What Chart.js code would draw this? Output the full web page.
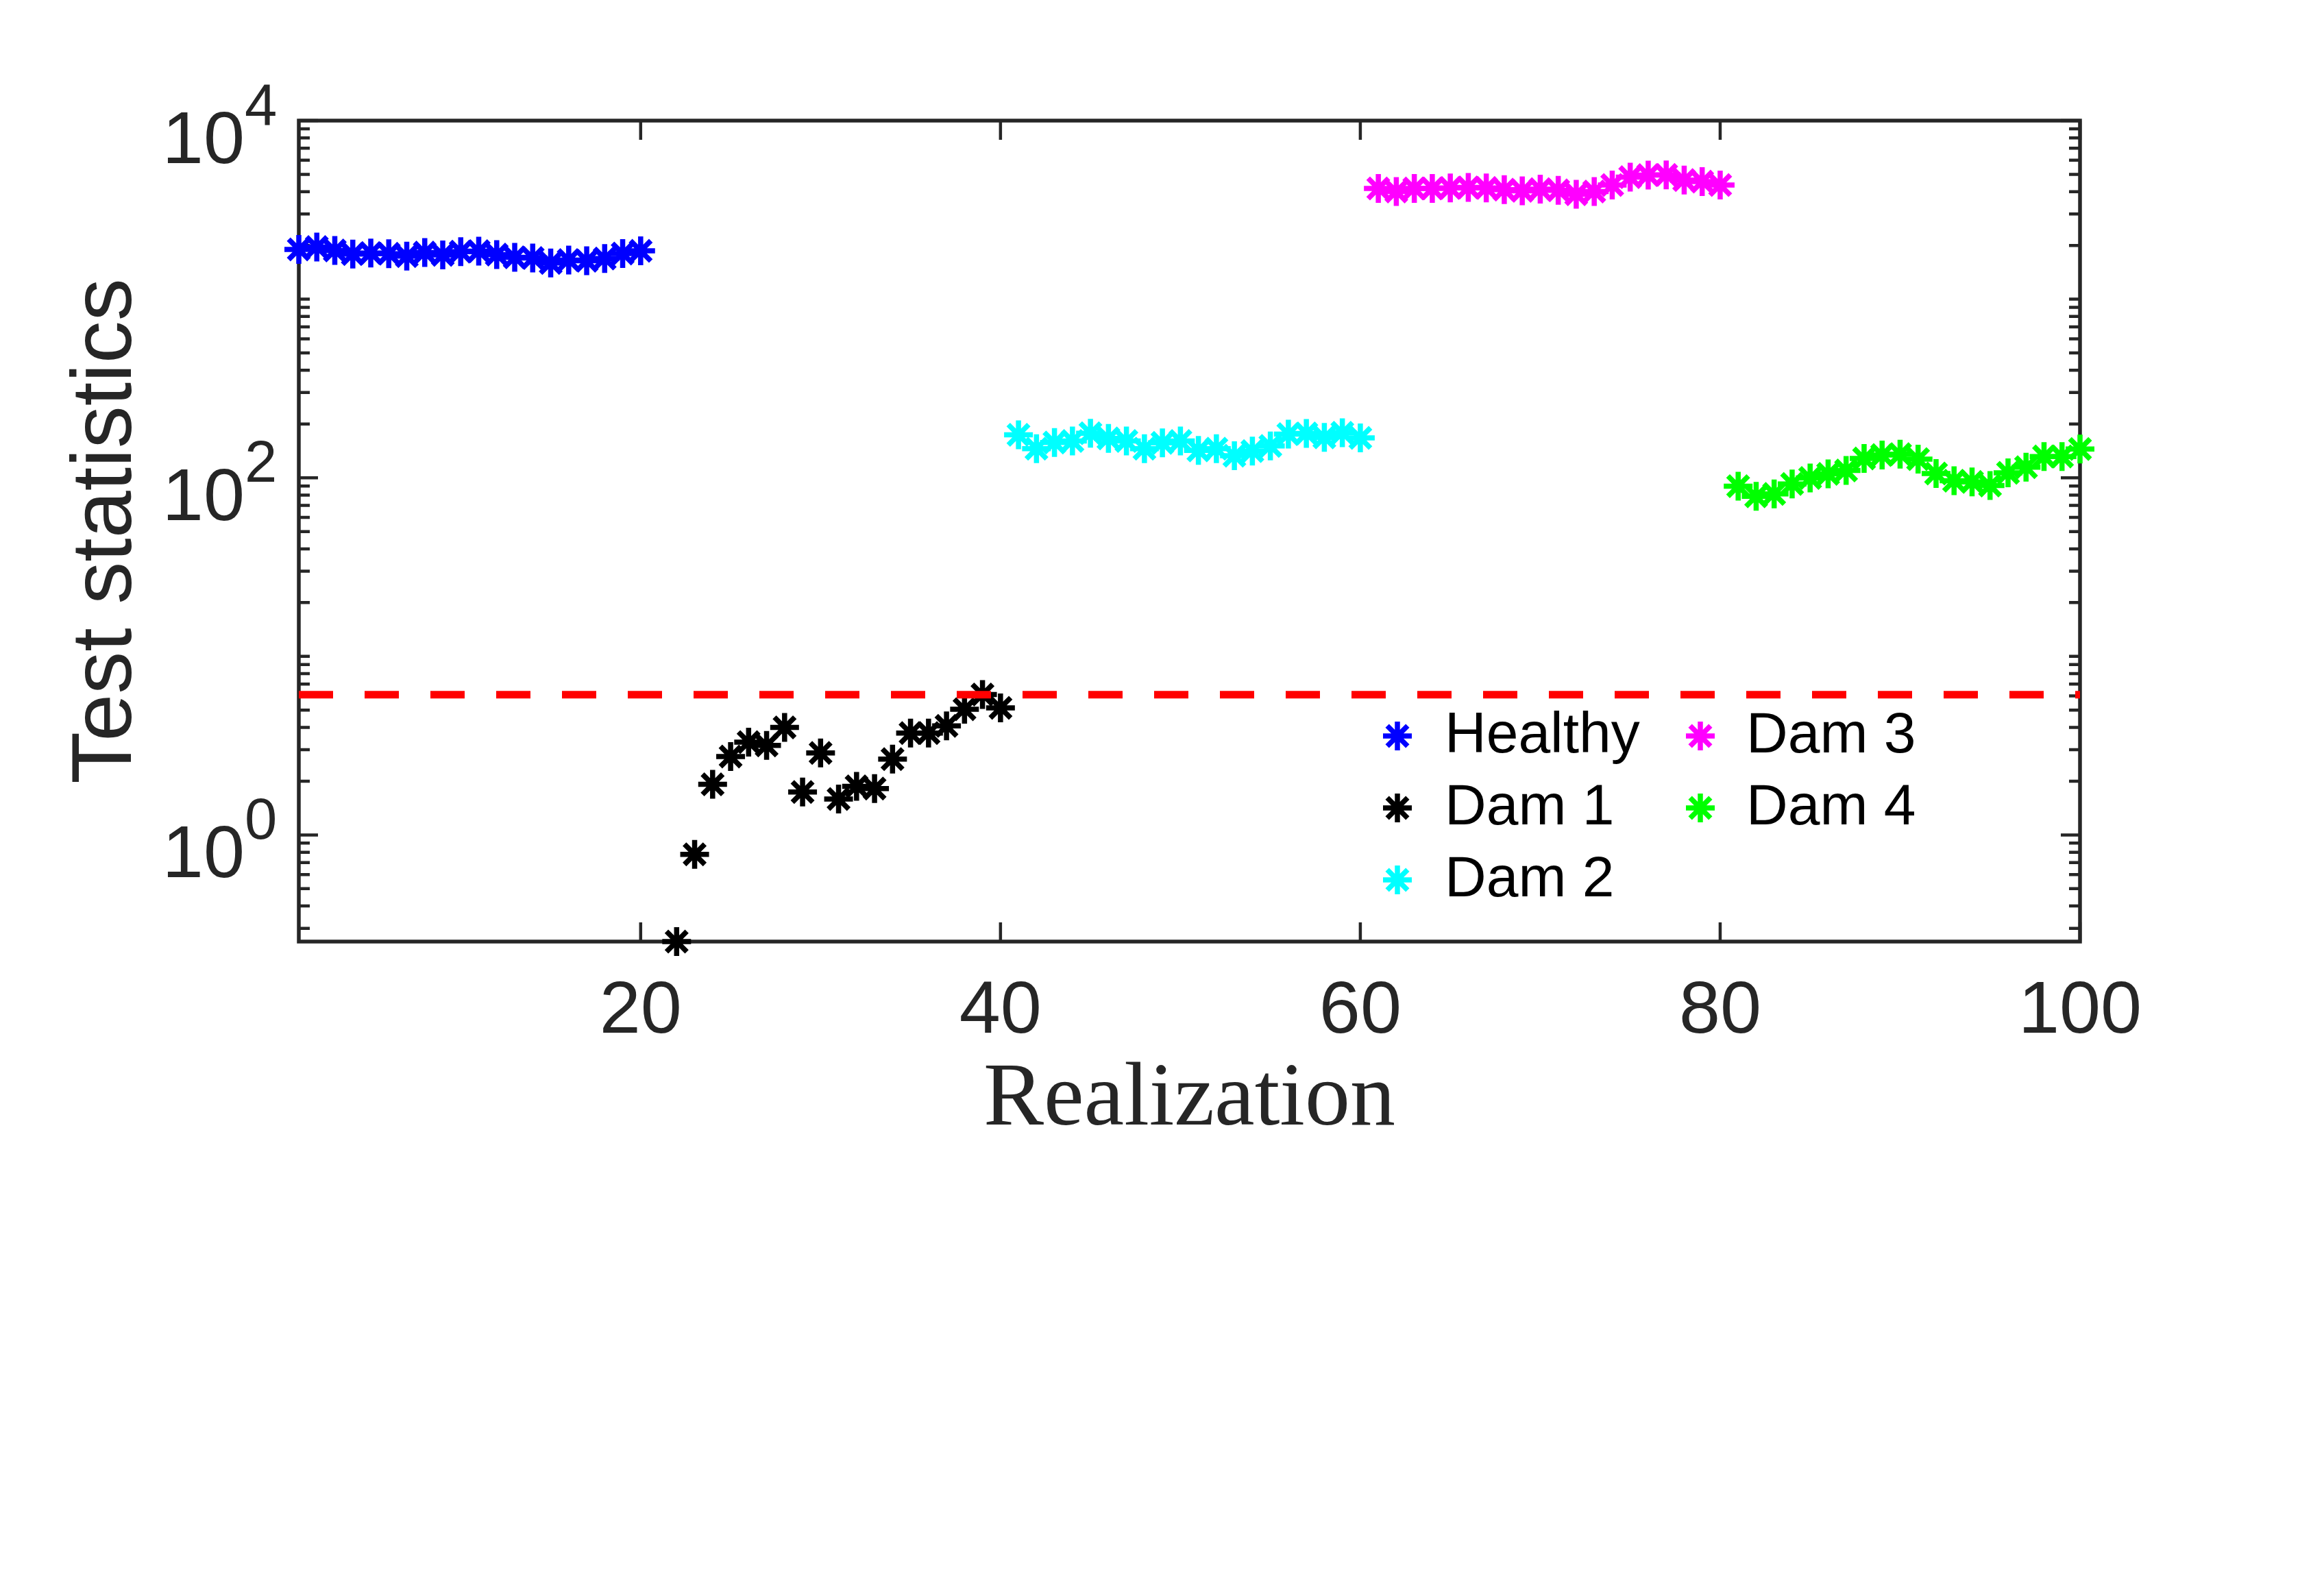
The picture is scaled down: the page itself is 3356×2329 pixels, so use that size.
<!DOCTYPE html>
<html>
<head>
<meta charset="utf-8">
<title>Test statistics</title>
<script src="https://cdn.jsdelivr.net/npm/chart.js@4.4.0/dist/chart.umd.min.js"></script>
<style>
  html, body { margin: 0; padding: 0; background: #ffffff; }
  #wrap { width: 3356px; height: 2329px; }
</style>
</head>
<body>
<div id="wrap"><canvas id="chart" width="3356" height="2329"></canvas></div>
<script>
  // first realization of each group
  const healthyStart = 1;
  const dam1Start = 22;   // realization 21 falls below the axis
  const dam2Start = 41;
  const dam3Start = 61;
  const dam4Start = 81;

  // test statistic per realization
  const healthy = [1901, 1958, 1874, 1788, 1815, 1798, 1741, 1824, 1771, 1847,
                   1858, 1778, 1715, 1700, 1594, 1656, 1641, 1690, 1803, 1864];
  const dam1 = [0.253, 0.779, 1.92, 2.75, 3.31, 3.17, 4.00, 1.74, 2.88, 1.59,
                1.87, 1.82, 2.66, 3.72, 3.72, 4.08, 5.06, 6.12, 5.15];
  const dam2 = [174.1, 145.6, 157.6, 160.8, 177.7, 166.2, 160.8, 145.6, 156.9, 160.8,
                142.2, 145.6, 132.9, 141.0, 150.8, 175.6, 177.3, 168.2, 178.8, 167.1];
  const dam3 = [4168, 4011, 4168, 4168, 4194, 4229, 4194, 4106, 4046, 4130,
                4070, 3872, 4011, 4356, 4827, 4955, 4970, 4645, 4550, 4356];
  const dam4 = [89.8, 78.7, 81.2, 92.4, 99.7, 105.1, 109.8, 128.2, 134.0, 135.6,
                127.1, 105.7, 96.3, 94.9, 90.5, 106.6, 114.7, 131.6, 131.6, 145.0];

  // control limit (red dashed line)
  const threshold = 6.1;

  // axes
  const xMin = 1;
  const xMax = 100;
  const xTicks = [20, 40, 60, 80, 100];
  const yMin = 0.2529;
  const yMax = 10000;
  const yMajor = [1, 100, 10000];
  const yExponents = ['0', '2', '4'];

  const seriesNames = ['Healthy', 'Dam 1', 'Dam 2', 'Dam 3', 'Dam 4'];
  const seriesColors = ['#0000ff', '#000000', '#00ffff', '#ff00ff', '#00ff00'];

  const axisColor = '#262626';

  function toPoints(values, start) {
    return values.map((v, i) => ({ x: start + i, y: v }));
  }

  function drawStar(ctx, cx, cy, r) {
    const d = r * Math.SQRT1_2;
    ctx.moveTo(cx - r, cy); ctx.lineTo(cx + r, cy);
    ctx.moveTo(cx, cy - r); ctx.lineTo(cx, cy + r);
    ctx.moveTo(cx - d, cy - d); ctx.lineTo(cx + d, cy + d);
    ctx.moveTo(cx + d, cy - d); ctx.lineTo(cx - d, cy + d);
  }

  // box, inward ticks, 10^n labels and the legend, MATLAB style
  const matlabAxes = {
    id: 'matlabAxes',
    beforeDatasetsDraw(chart) {
      const { ctx, chartArea: a, scales: { x, y } } = chart;
      ctx.save();
      ctx.strokeStyle = axisColor;
      ctx.lineWidth = 4.5;
      ctx.beginPath();
      xTicks.forEach(v => {
        const px = x.getPixelForValue(v);
        ctx.moveTo(px, a.bottom); ctx.lineTo(px, a.bottom - 28);
        ctx.moveTo(px, a.top); ctx.lineTo(px, a.top + 28);
      });
      for (let e = -1; e <= 4; e++) {
        for (let k = 1; k <= 9; k++) {
          const v = k * Math.pow(10, e);
          if (v < yMin || v > yMax) continue;
          const py = y.getPixelForValue(v);
          const len = yMajor.includes(v) ? 28 : 16;
          ctx.moveTo(a.left, py); ctx.lineTo(a.left + len, py);
          ctx.moveTo(a.right, py); ctx.lineTo(a.right - len, py);
        }
      }
      ctx.stroke();
      ctx.lineWidth = 5.5;
      ctx.strokeRect(a.left, a.top, a.right - a.left, a.bottom - a.top);
      ctx.restore();
    },
    afterDraw(chart) {
      const { ctx, chartArea: a, scales: { y } } = chart;
      ctx.save();

      // y tick labels with superscript exponent
      ctx.fillStyle = axisColor;
      ctx.textBaseline = 'alphabetic';
      yMajor.forEach((v, i) => {
        const py = y.getPixelForValue(v);
        const xEnd = a.left - 79;
        ctx.font = '108px "Liberation Sans"';
        ctx.textAlign = 'right';
        ctx.fillText('10', xEnd, py + 62);
        ctx.font = '85px "Liberation Sans"';
        ctx.textAlign = 'left';
        ctx.fillText(yExponents[i], xEnd, py + 6);
      });

      // legend: two columns, filled top to bottom
      const colMarker = [2039, 2481];
      const colText = [2108, 2548];
      const rowY = [1074, 1179, 1284];
      ctx.font = '84px "Liberation Sans"';
      ctx.textAlign = 'left';
      ctx.textBaseline = 'middle';
      ctx.lineWidth = 7.5;
      seriesNames.forEach((name, i) => {
        const col = Math.floor(i / 3);
        const row = i % 3;
        ctx.strokeStyle = seriesColors[i];
        ctx.beginPath();
        drawStar(ctx, colMarker[col], rowY[row], 21);
        ctx.stroke();
        ctx.fillStyle = '#000000';
        ctx.fillText(name, colText[col], rowY[row] + 1);
      });
      ctx.restore();
    }
  };

  const groups = [
    toPoints(healthy, healthyStart),
    toPoints(dam1, dam1Start),
    toPoints(dam2, dam2Start),
    toPoints(dam3, dam3Start),
    toPoints(dam4, dam4Start)
  ];

  const datasets = [{
    label: 'threshold',
    data: [{ x: xMin, y: threshold }, { x: xMax, y: threshold }],
    showLine: true,
    borderColor: '#ff0000',
    borderWidth: 11,
    borderDash: [50, 46],
    pointRadius: 0,
    clip: false
  }];
  groups.forEach((pts, i) => {
    datasets.push({
      label: seriesNames[i],
      data: pts,
      pointStyle: 'star',
      pointRadius: 21,
      pointHoverRadius: 21,
      pointBorderWidth: 7.5,
      borderColor: seriesColors[i],
      backgroundColor: seriesColors[i],
      clip: false
    });
  });

  new Chart('chart', {
    type: 'scatter',
    data: { datasets: datasets },
    plugins: [matlabAxes],
    options: {
      responsive: false,
      animation: false,
      devicePixelRatio: 1,
      events: [],
      layout: { padding: { left: 0, right: 321, top: 176, bottom: 555 } },
      plugins: {
        legend: { display: false },
        tooltip: { enabled: false }
      },
      scales: {
        x: {
          type: 'linear',
          min: xMin,
          max: xMax,
          afterBuildTicks: s => { s.ticks = xTicks.map(v => ({ value: v })); },
          afterFit: s => { s.height = 400; },
          grid: { display: false, drawTicks: false },
          border: { display: false },
          ticks: {
            font: { family: 'Liberation Sans', size: 108 },
            color: axisColor,
            padding: 38,
            maxRotation: 0,
            autoSkip: false
          },
          title: {
            display: true,
            text: 'Realization',
            font: { family: 'Liberation Serif', size: 132 },
            color: axisColor,
            padding: { top: 0, bottom: 88 }
          }
        },
        y: {
          type: 'logarithmic',
          min: yMin,
          max: yMax,
          afterFit: s => { s.width = 436; },
          grid: { display: false, drawTicks: false },
          border: { display: false },
          ticks: { display: false },
          title: {
            display: true,
            text: 'Test statistics',
            font: { family: 'Liberation Sans', size: 124 },
            color: axisColor,
            padding: { top: 82, bottom: 0 }
          }
        }
      }
    }
  });
</script>
</body>
</html>
